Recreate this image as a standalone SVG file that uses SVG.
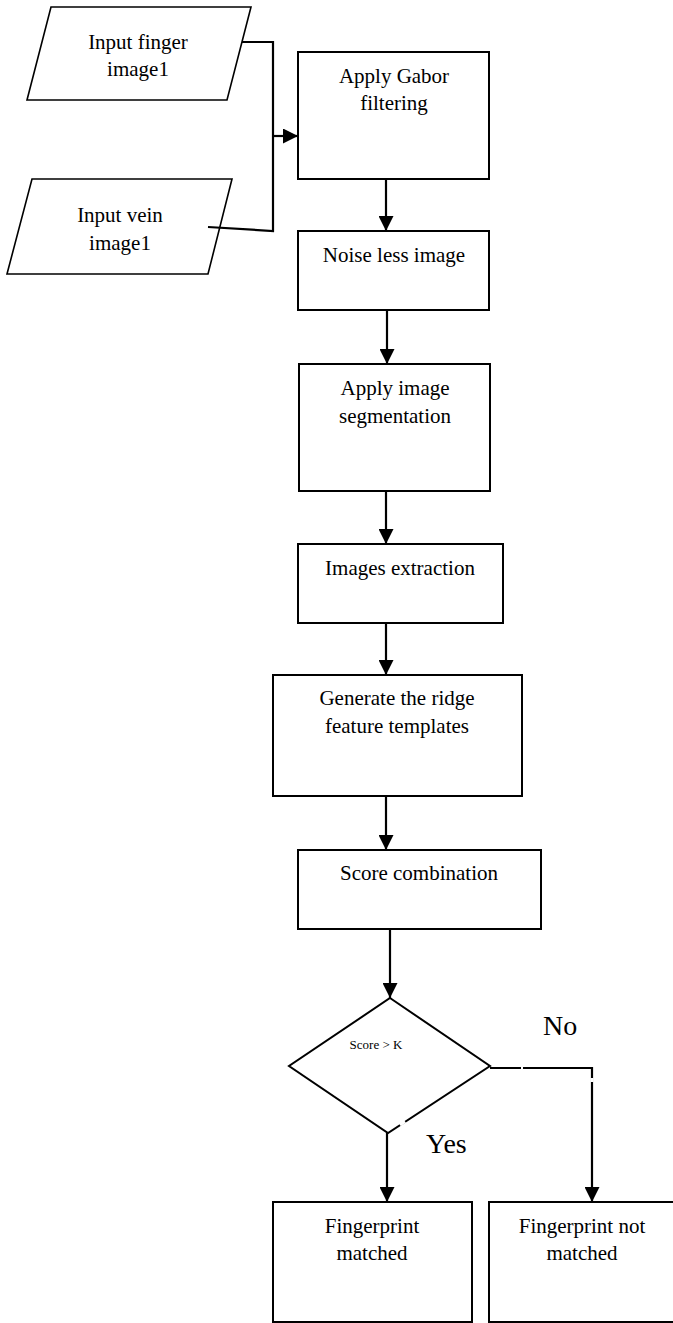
<svg xmlns="http://www.w3.org/2000/svg" width="673" height="1323" viewBox="0 0 673 1323">
  <style>
    .shape { fill: #fff; stroke: #000; stroke-width: 2; }
    .io { fill: #fff; stroke: #000; stroke-width: 1.6; }
    .wire { fill: none; stroke: #000; stroke-width: 2.2; }
    .gap { stroke: #fff; stroke-width: 3; }
    text { font-family: "Liberation Serif", "Times New Roman", serif; font-size: 21px; fill: #000; text-anchor: middle; }
    .small { font-size: 13px; }
    .big { font-size: 28px; text-anchor: start; }
  </style>
  <defs>
    <marker id="arrow" markerUnits="userSpaceOnUse" markerWidth="15" markerHeight="15" refX="15" refY="7.5" orient="auto">
      <path d="M0,0 L15,7.5 L0,15 Z" fill="#000"/>
    </marker>
  </defs>

  <rect width="673" height="1323" fill="#fff"/>

  <!-- inputs -->
  <g id="input-finger">
    <polygon class="io" points="51,7 251,7 227,100 27,100"/>
    <text x="138" y="49">Input finger</text>
    <text x="138" y="76">image1</text>
  </g>
  <g id="input-vein">
    <polygon class="io" points="32,179 232,179 208,274 7,274"/>
    <text x="120" y="222">Input vein</text>
    <text x="120" y="250">image1</text>
  </g>

  <!-- processing steps -->
  <g id="gabor">
    <rect class="shape" x="298" y="52" width="191" height="127"/>
    <text x="394" y="83">Apply Gabor</text>
    <text x="394" y="110">filtering</text>
  </g>
  <g id="noise-less">
    <rect class="shape" x="298" y="231" width="191" height="79"/>
    <text x="394" y="262">Noise less image</text>
  </g>
  <g id="segmentation">
    <rect class="shape" x="299" y="364" width="191" height="127"/>
    <text x="395" y="395">Apply image</text>
    <text x="395" y="423">segmentation</text>
  </g>
  <g id="extraction">
    <rect class="shape" x="298" y="544" width="205" height="79"/>
    <text x="400" y="575">Images extraction</text>
  </g>
  <g id="templates">
    <rect class="shape" x="273" y="675" width="249" height="121"/>
    <text x="397" y="705">Generate the ridge</text>
    <text x="397" y="733">feature templates</text>
  </g>
  <g id="score-combination">
    <rect class="shape" x="298" y="850" width="243" height="79"/>
    <text x="419" y="880">Score combination</text>
  </g>

  <!-- decision -->
  <g id="decision">
    <polygon class="shape" points="390,998 490,1066 388,1133 289,1066"/>
    <text class="small" x="376" y="1049">Score &gt; K</text>
  </g>

  <!-- outcomes -->
  <g id="matched">
    <rect class="shape" x="273" y="1202" width="199" height="120"/>
    <text x="372" y="1233">Fingerprint</text>
    <text x="372" y="1260">matched</text>
  </g>
  <g id="not-matched">
    <rect class="shape" x="489" y="1202" width="200" height="120"/>
    <text x="582" y="1233">Fingerprint not</text>
    <text x="582" y="1260">matched</text>
  </g>

  <!-- connectors -->
  <g id="connectors">
    <polyline class="wire" points="242,42 273,42 273,231 208,227"/>
    <line class="wire" x1="273" y1="136" x2="298" y2="136" marker-end="url(#arrow)"/>
    <line class="wire" x1="386" y1="179" x2="386" y2="231" marker-end="url(#arrow)"/>
    <line class="wire" x1="387" y1="310" x2="387" y2="364" marker-end="url(#arrow)"/>
    <line class="wire" x1="386" y1="491" x2="386" y2="544" marker-end="url(#arrow)"/>
    <line class="wire" x1="386" y1="623" x2="386" y2="675" marker-end="url(#arrow)"/>
    <line class="wire" x1="386" y1="796" x2="386" y2="850" marker-end="url(#arrow)"/>
    <line class="wire" x1="390" y1="929" x2="390" y2="998" marker-end="url(#arrow)"/>
    <line class="wire" x1="387" y1="1133" x2="387" y2="1202" marker-end="url(#arrow)"/>
    <polyline class="wire" points="490,1068 592,1068 592,1202" marker-end="url(#arrow)"/>
    <!-- small breaks in the decision branches -->
    <line class="gap" x1="521" y1="1068" x2="523" y2="1068"/>
    <line class="gap" x1="592" y1="1078" x2="592" y2="1082"/>
    <line class="gap" x1="400" y1="1125" x2="405" y2="1121.5"/>
  </g>

  <!-- branch labels -->
  <text class="big" x="543" y="1035">No</text>
  <text class="big" x="426" y="1153">Yes</text>
</svg>
